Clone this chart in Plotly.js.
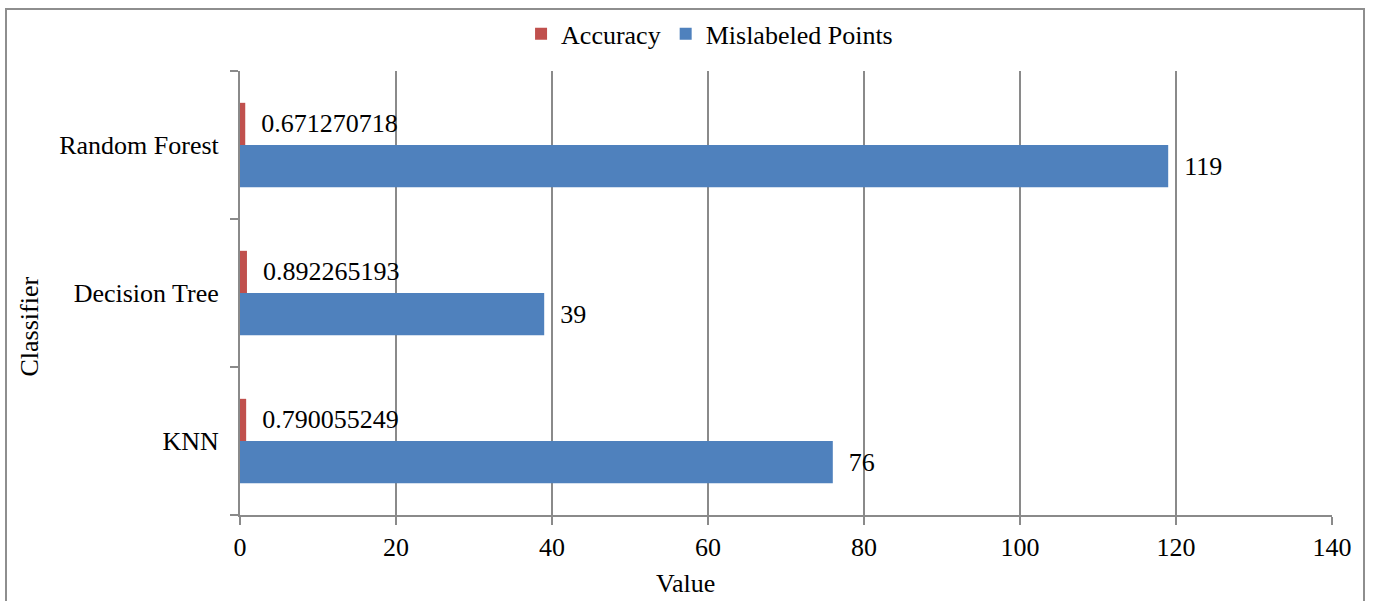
<!DOCTYPE html>
<html>
<head>
<meta charset="utf-8">
<script src="https://cdn.plot.ly/plotly-3.0.1.min.js"></script>
<style>
html,body{margin:0;padding:0;background:#fff;overflow:hidden;}
#frame{position:absolute;left:5px;top:8px;width:1360px;height:620px;border:2px solid #8e8e8e;box-sizing:border-box;pointer-events:none;}
#chart{position:absolute;left:0;top:0;width:1373px;height:601px;}
</style>
</head>
<body>
<div id="chart"></div>
<div id="frame"></div>
<script>
const categories = ['KNN', 'Decision Tree', 'Random Forest'];
const accuracy = [0.790055249, 0.892265193, 0.671270718];
const mislabeled = [76, 39, 119];
const xTicks = [0, 20, 40, 60, 80, 100, 120, 140];

const FONT = "'Liberation Serif', 'Times New Roman', Times, serif";
const pad = '\u00a0\u00a0';

const traces = [
  {
    type: 'bar', orientation: 'h', name: 'Mislabeled Points',
    y: categories, x: mislabeled,
    marker: {color: '#4F81BD'},
    text: mislabeled.map(v => pad + String(v)),
    textposition: 'outside', cliponaxis: false, constraintext: 'none',
    textfont: {family: FONT, size: 26, color: '#000'},
    hoverinfo: 'x+name'
  },
  {
    type: 'bar', orientation: 'h', name: 'Accuracy',
    y: categories, x: accuracy,
    marker: {color: '#C0504D'},
    text: accuracy.map(v => pad + String(v)),
    textposition: 'outside', cliponaxis: false, constraintext: 'none',
    textfont: {family: FONT, size: 26, color: '#000'},
    hoverinfo: 'x+name'
  }
];

const layout = {
  width: 1373, height: 601,
  margin: {l: 240, r: 41, t: 70, b: 86},
  paper_bgcolor: '#fff', plot_bgcolor: '#fff',
  font: {family: FONT, size: 26, color: '#000'},
  barmode: 'group', bargap: 0.43, bargroupgap: 0,
  showlegend: true,
  legend: {
    orientation: 'h', traceorder: 'reversed',
    x: 0.43, xanchor: 'center', y: 1.081, yanchor: 'middle',
    font: {family: FONT, size: 26, color: '#000'},
    itemwidth: 30
  },
  xaxis: {
    range: [0, 140], tickvals: xTicks, ticktext: xTicks.map(String),
    showgrid: true, gridcolor: '#8a8a8a', gridwidth: 2,
    showline: true, linecolor: '#8a8a8a', linewidth: 2,
    ticks: 'outside', ticklen: 8, tickwidth: 2, tickcolor: '#8a8a8a',
    zeroline: false, fixedrange: true,
    tickfont: {family: FONT, size: 26, color: '#000'}
  },
  yaxis: {
    type: 'category', categoryorder: 'array', categoryarray: categories,
    showline: true, linecolor: '#8a8a8a', linewidth: 2,
    ticks: 'outside', tickson: 'boundaries', ticklen: 8, tickwidth: 2, tickcolor: '#8a8a8a',
    showgrid: false, zeroline: false, fixedrange: true,
    ticklabelstandoff: 14,
    tickfont: {family: FONT, size: 26, color: '#000'}
  },
  annotations: [
    {text: 'Value', xref: 'paper', yref: 'paper', x: 0.408, y: -0.155,
     xanchor: 'center', yanchor: 'middle', showarrow: false,
     font: {family: FONT, size: 26, color: '#000'}},
    {text: 'Classifier', xref: 'paper', yref: 'paper', x: -0.193, y: 0.425,
     xanchor: 'center', yanchor: 'middle', showarrow: false, textangle: -90,
     font: {family: FONT, size: 26, color: '#000'}}
  ]
};

Plotly.newPlot('chart', traces, layout, {displayModeBar: false, staticPlot: true});
</script>
</body>
</html>
